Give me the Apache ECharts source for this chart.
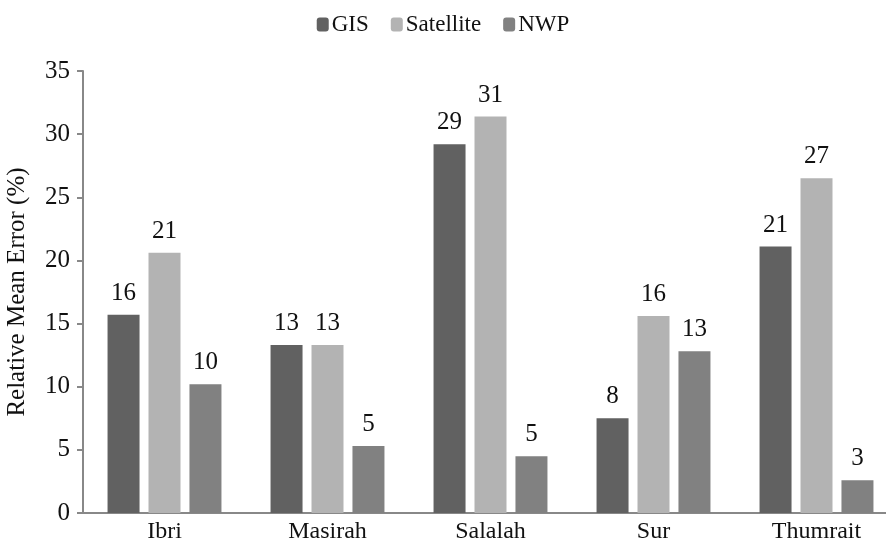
<!DOCTYPE html>
<html>
<head>
<meta charset="utf-8">
<script src="https://cdn.jsdelivr.net/npm/echarts@6/dist/echarts.min.js"></script>
<style>
  html, body { margin: 0; padding: 0; background: #fff; }
  #chart { width: 886px; height: 549px; }
</style>
</head>
<body>
<div id="chart"></div>
<script>
// Stations and relative mean error (%) per data source
const stations = ['Ibri', 'Masirah', 'Salalah', 'Sur', 'Thumrait'];
const gis = [15.7, 13.3, 29.2, 7.5, 21.1];
const satellite = [20.6, 13.3, 31.4, 15.6, 26.5];
const nwp = [10.2, 5.3, 4.5, 12.8, 2.6];
const yTicks = [0, 5, 10, 15, 20, 25, 30, 35];

const serif = '"Liberation Serif", "DejaVu Serif", serif';
const axisGray = '#888888';

function barSeries(name, values, color) {
  return {
    name: name,
    type: 'bar',
    data: values,
    barWidth: 32,
    barGap: '28%',
    itemStyle: { color: color },
    label: {
      show: true,
      position: 'top',
      distance: 9,
      fontFamily: serif,
      fontSize: 25,
      color: '#111',
      formatter: p => Math.round(p.value)
    }
  };
}

const chart = echarts.init(document.getElementById('chart'));
chart.setOption({
  animation: false,
  backgroundColor: '#ffffff',
  legend: {
    top: 8,
    left: 'center',
    itemWidth: 12,
    itemHeight: 14,
    itemGap: 22,
    textStyle: { fontFamily: serif, fontSize: 23, color: '#111', padding: [0, 0, 0, -2] },
    data: ['GIS', 'Satellite', 'NWP']
  },
  grid: { left: 83, top: 71, bottom: 36, width: 815, outerBoundsMode: 'none' },
  xAxis: {
    type: 'category',
    data: stations,
    axisLine: { lineStyle: { color: axisGray, width: 2 } },
    axisTick: { show: false },
    axisLabel: { fontFamily: serif, fontSize: 24, color: '#111', margin: 7 }
  },
  yAxis: {
    type: 'value',
    min: yTicks[0],
    max: yTicks[yTicks.length - 1],
    interval: 5,
    name: 'Relative Mean Error (%)',
    nameLocation: 'middle',
    nameGap: 53,
    nameTextStyle: { fontFamily: serif, fontSize: 25, color: '#111' },
    axisLine: { show: true, lineStyle: { color: axisGray, width: 2 } },
    axisTick: { show: true, length: 6, lineStyle: { color: axisGray, width: 2 } },
    splitLine: { show: false },
    axisLabel: { fontFamily: serif, fontSize: 25, color: '#111', margin: 13 }
  },
  series: [
    barSeries('GIS', gis, '#616161'),
    barSeries('Satellite', satellite, '#b3b3b3'),
    barSeries('NWP', nwp, '#818181')
  ]
});
</script>
</body>
</html>
